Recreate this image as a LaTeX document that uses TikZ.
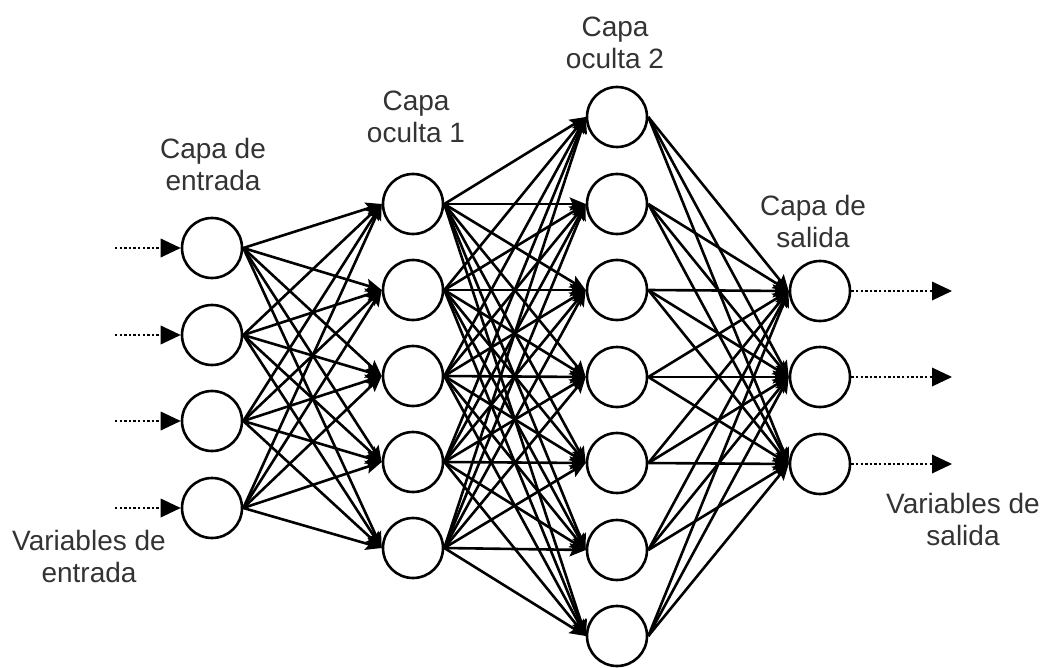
\documentclass[tikz,border=0pt]{standalone}
\usepackage{fontspec}
\setmainfont{Liberation Sans}
\usetikzlibrary{arrows.meta}
\definecolor{txt}{HTML}{333333}
\begin{document}
\begin{tikzpicture}[x=1pt,y=-1pt,
  neuron/.style={circle,draw,line width=2.6pt,fill=white,minimum size=60pt,inner sep=0pt},
  conn/.style={line width=2.6pt,-{Stealth[length=16pt,width=13pt,inset=3pt]}},
  dotarrow/.style={line width=2.6pt,dash pattern=on 2.4pt off 2.2pt,-{Triangle[length=20pt,width=19pt,line width=0pt]}},
  lbl/.style={align=center,text=txt,font=\fontsize{28}{32}\selectfont}]
\useasboundingbox (0,0) rectangle (1048,668);
% input layer
\foreach \i/\y in {1/248,2/335,3/421,4/508}
  \node[neuron] (i\i) at (212,\y) {};
% hidden 1
\foreach \i/\y in {1/204,2/290,3/376,4/462,5/548}
  \node[neuron] (a\i) at (413,\y) {};
% hidden 2
\foreach \i/\y in {1/117,2/204,3/290,4/377,5/463,6/550,7/636}
  \node[neuron] (b\i) at (617,\y) {};
% output
\foreach \i/\y in {1/291,2/377,3/464}
  \node[neuron] (o\i) at (820,\y) {};
% connections
\foreach \s in {1,...,4}
  \foreach \t in {1,...,5}
    \draw[conn] (i\s.east) -- (a\t.west);
\foreach \s in {1,...,5}
  \foreach \t in {1,...,7}
    \draw[conn] (a\s.east) -- (b\t.west);
\foreach \s in {1,...,7}
  \foreach \t in {1,...,3}
    \draw[conn] (b\s.east) -- (o\t.west);
% input / output dotted arrows
\foreach \i/\y in {1/248,2/335,3/421,4/508} {
  \coordinate (in\i) at (115,\y);
  \draw[dotarrow] (in\i) -- (i\i.west);
}
\foreach \i/\y in {1/291,2/377,3/464} {
  \coordinate (out\i) at (952,\y);
  \draw[dotarrow] (o\i.east) -- (out\i);
}
% labels
\node[lbl] (l1) at (213,164) {Capa de\\entrada};
\node[lbl] (l2) at (416,117) {Capa\\oculta 1};
\node[lbl] (l3) at (615,43) {Capa\\oculta 2};
\node[lbl] (l4) at (813,221) {Capa de\\salida};
\node[lbl] (l5) at (89,556) {Variables de\\entrada};
\node[lbl] (l6) at (963,519) {Variables de\\salida};
\end{tikzpicture}
\end{document}
